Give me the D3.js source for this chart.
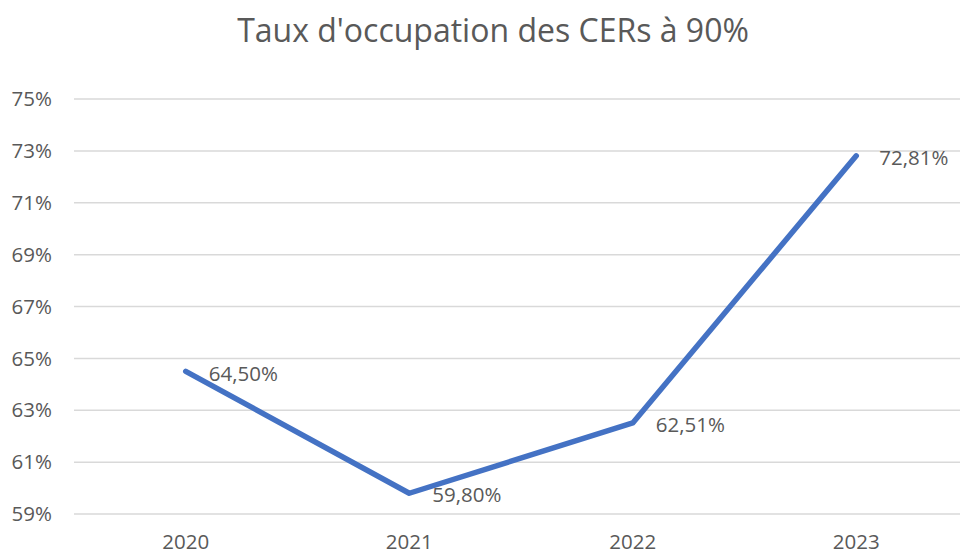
<!DOCTYPE html>
<html>
<head>
<meta charset="utf-8">
<script src="https://cdn.jsdelivr.net/npm/d3@7"></script>
<style>
  body { margin: 0; background: #fff; }
  svg { display: block; font-family: "Open Sans", sans-serif; }
  .grid line { stroke: #d9d9d9; stroke-width: 1.5px; }
  .tick-label, .label { fill: #595959; }
  .title { fill: #595959; }
</style>
</head>
<body>
<div id="chart"></div>
<script>
  var years = ['2020', '2021', '2022', '2023'];
  var rates = [64.50, 59.80, 62.51, 72.81];
  var yTicks = [59, 61, 63, 65, 67, 69, 71, 73, 75];
  var title = "Taux d'occupation des CERs à 90%";

  var width = 960, height = 553;
  var margin = { top: 99, right: -8, bottom: 39, left: 74 };

  var svg = d3.select('#chart').append('svg')
    .attr('width', width)
    .attr('height', height);

  var x = d3.scaleBand()
    .domain(years)
    .range([margin.left, width - margin.right]);

  var y = d3.scaleLinear()
    .domain([59, 75])
    .range([height - margin.bottom, margin.top]);

  svg.append('text')
    .attr('class', 'title')
    .attr('x', 493)
    .attr('y', 42)
    .attr('text-anchor', 'middle')
    .style('font-size', '32px')
    .text(title);

  svg.append('g')
    .attr('class', 'grid')
    .selectAll('line')
    .data(yTicks)
    .enter().append('line')
    .attr('x1', margin.left)
    .attr('x2', width)
    .attr('y1', function(d) { return y(d); })
    .attr('y2', function(d) { return y(d); });

  svg.append('g')
    .selectAll('text')
    .data(yTicks)
    .enter().append('text')
    .attr('class', 'tick-label')
    .attr('x', 52)
    .attr('y', function(d) { return y(d); })
    .attr('dy', '0.35em')
    .attr('text-anchor', 'end')
    .style('font-size', '20.5px')
    .text(function(d) { return d + '%'; });

  svg.append('g')
    .selectAll('text')
    .data(years)
    .enter().append('text')
    .attr('class', 'tick-label')
    .attr('x', function(d) { return x(d) + x.bandwidth() / 2; })
    .attr('y', 542)
    .attr('dy', '0.35em')
    .attr('text-anchor', 'middle')
    .style('font-size', '20.5px')
    .text(function(d) { return d; });

  var line = d3.line()
    .x(function(d, i) { return x(years[i]) + x.bandwidth() / 2; })
    .y(function(d) { return y(d); });

  svg.append('path')
    .datum(rates)
    .attr('d', line)
    .attr('fill', 'none')
    .attr('stroke', '#4472c4')
    .attr('stroke-width', 5.5)
    .attr('stroke-linecap', 'round')
    .attr('stroke-linejoin', 'round');

  svg.append('g')
    .selectAll('text')
    .data(rates)
    .enter().append('text')
    .attr('class', 'label')
    .attr('x', function(d, i) { return x(years[i]) + x.bandwidth() / 2 + 23; })
    .attr('y', function(d) { return y(d) + 2; })
    .attr('dy', '0.35em')
    .style('font-size', '20.5px')
    .text(function(d) { return d.toFixed(2).replace('.', ',') + '%'; });
</script>
</body>
</html>
